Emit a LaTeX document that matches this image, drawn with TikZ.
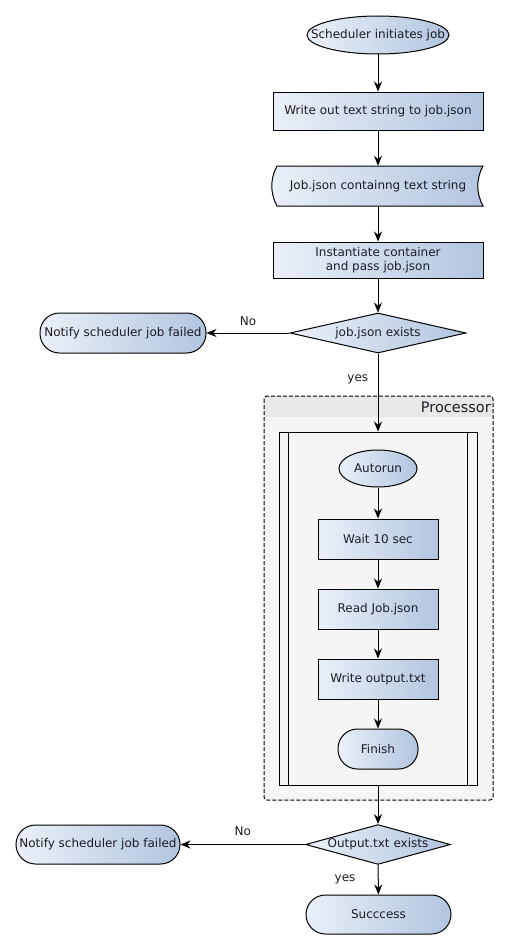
\documentclass[tikz,border=0pt]{standalone}
\usepackage{fontspec}
\setmainfont{DejaVu Sans}
\usetikzlibrary{arrows.meta}
\usetikzlibrary{shapes.geometric}
\usetikzlibrary{positioning}
\definecolor{shadeleft}{HTML}{EAF0F8}
\definecolor{shaderight}{HTML}{B2C5E0}
\definecolor{ink}{HTML}{1C1C28}
\tikzset{txt/.style = {text=ink, font=\fontsize{12}{14}\selectfont}}
\tikzset{shaded/.style = {txt, draw, line width=1pt, left color=shadeleft,
                          right color=shaderight, align=center, inner sep=2pt}}
\tikzset{procbox/.style = {shaded, rectangle, minimum width=#1, minimum height=38}}
\tikzset{stadium/.style = {shaded, rectangle, rounded corners=19.5pt,
                           minimum width=#1, minimum height=40}}
\tikzset{oval/.style = {shaded, ellipse, minimum width=#1, minimum height=38}}
\tikzset{decide/.style = {shaded, diamond, inner xsep=1pt, inner ysep=0pt,
                          minimum width=#1, minimum height=40}}
\tikzset{flow/.style = {-{Stealth[length=10pt, width=8pt]}, line width=1pt}}

\begin{document}
\begin{tikzpicture}[x=1pt, y=-1pt]
    \useasboundingbox (0,0) rectangle (508,950);
    \node (start) [oval=142, inner xsep=-17pt] at (378,35) {Scheduler initiates job};
    \node (write) [procbox=210] at (378,111) {Write out text string to job.json};
    \shade [left color=shadeleft, right color=shaderight]
      (277,166) -- (483,166) .. controls (476,179) and (476,193) .. (483,206)
      -- (277,206) .. controls (270,193) and (270,179) .. (277,166);
    \draw [line width=1pt]
      (277,166) -- (483,166) .. controls (476,179) and (476,193) .. (483,206)
      -- (277,206) .. controls (270,193) and (270,179) .. cycle;
    \node (data) [txt, minimum width=210, minimum height=40] at (378,186) {Job.json containng text string};
    \node (inst) [procbox=210, minimum height=36] at (378,260) {Instantiate container\\ and pass job.json};
    \node (check) [decide=176, aspect=4.4] at (378,333) {job.json exists};
    \node (fail1) [stadium=166] at (123,333) {Notify scheduler job failed};
    \begin{scope}
      \clip [rounded corners=3pt] (264,396) rectangle (493,800);
      \fill [black!4] (264,396) rectangle (493,800);
      \fill [black!9] (264,396) rectangle (493,417);
    \end{scope}
    \draw [line width=1pt, dash pattern=on 4pt off 2pt, rounded corners=3pt] (264,396) rectangle (493,800);
    \node (proclabel) [txt, anchor=east, font=\fontsize{14.5}{16}\selectfont, inner sep=1pt] at (492,407) {Processor};
    \node (sub) [draw, line width=1pt, minimum width=198, minimum height=353] at (378,608.5) {};
    \draw [line width=1pt] ([xshift=10pt]sub.north west) -- ([xshift=10pt]sub.south west);
    \draw [line width=1pt] ([xshift=-10pt]sub.north east) -- ([xshift=-10pt]sub.south east);
    \node (auto) [oval=78, minimum height=37] at (378,468.5) {Autorun};
    \foreach \name/\y/\label in {wait/539/Wait 10 sec, read/609/Read Job.json, writeout/679/Write output.txt}
      \node (\name) [procbox=120, minimum height=40] at (378,\y) {\label};
    \node (finish) [stadium=80] at (378,749) {Finish};
    \node (outcheck) [decide=142, minimum height=39, aspect=3.64] at (378,844.5) {Output.txt exists};
    \node (fail2) [stadium=164, minimum height=39] at (98,844.5) {Notify scheduler job failed};
    \node (done) [stadium=145, minimum height=39] at (378.5,914.5) {Succcess};
    \draw [flow] (start) -- (write);
    \draw [flow] (write) -- (data);
    \draw [flow] (data) -- (inst);
    \draw [flow] (inst) -- (check);
    \draw [flow] (check) -- node [txt, above=4pt] {No} (fail1);
    \draw [flow] (check) -- node [txt, pos=0.33, left=6pt] {yes} (sub);
    \foreach \a/\b in {auto/wait, wait/read, read/writeout, writeout/finish}
      \draw [flow] (\a) -- (\b);
    \draw [flow] (sub) -- (outcheck);
    \draw [flow] (outcheck) -- node [txt, above=5pt] {No} (fail2);
    \draw [flow] (outcheck) -- node [txt, left=19pt] {yes} (done);
\end{tikzpicture}
\end{document}
